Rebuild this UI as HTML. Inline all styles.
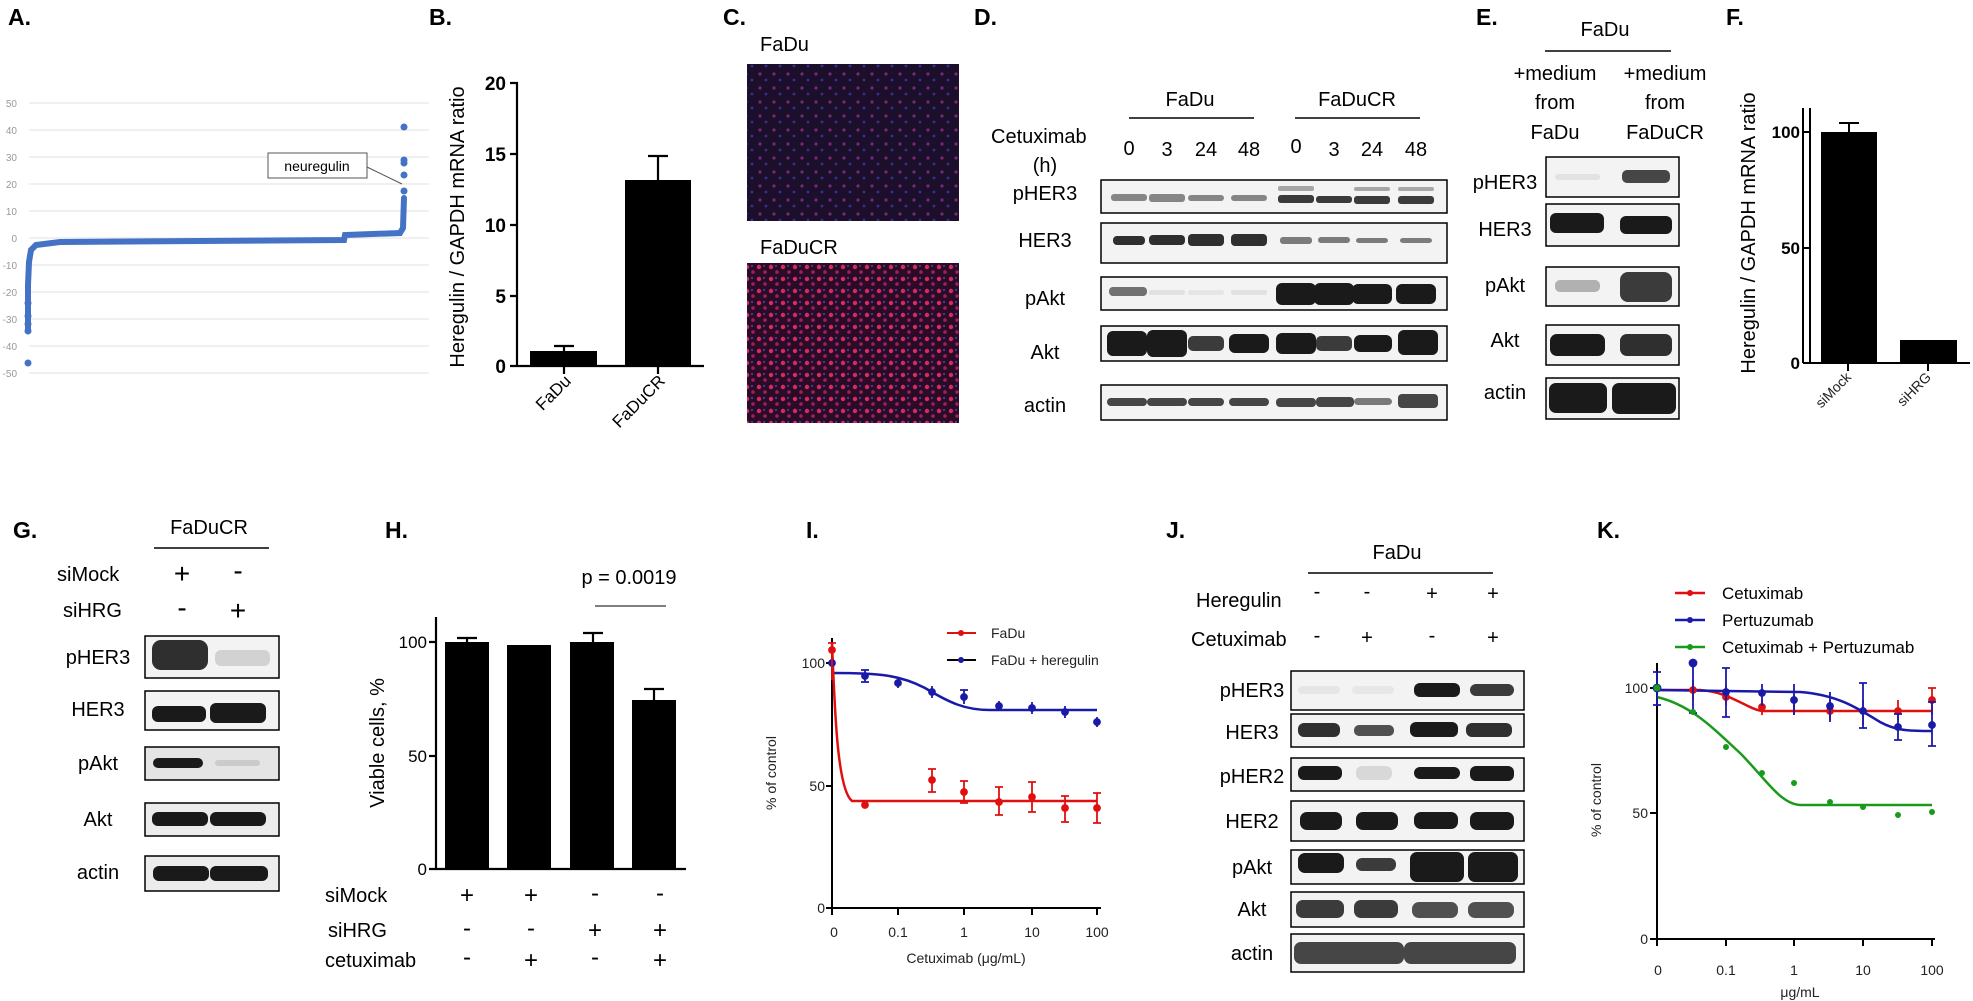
<!DOCTYPE html>
<html><head><meta charset="utf-8"><style>
html,body{margin:0;padding:0;background:#fff}
svg{display:block;font-family:"Liberation Sans",Arial,sans-serif}
.L{font-size:23px;font-weight:bold}
.t{font-size:20px}
.m{font-size:17px}
.s{font-size:14px;fill:#222}
.g{font-size:10px;fill:#999}
.b{stroke:#000;stroke-width:1.5;fill:#f3f3f3}
.bd{fill:#1a1a1a}
</style></head><body>
<svg width="1973" height="1001" viewBox="0 0 1973 1001" xmlns="http://www.w3.org/2000/svg">
<rect width="1973" height="1001" fill="#fff"/>
<!-- A -->
<text class="L" x="8" y="25">A.</text>
<g stroke="#e8e8e8" stroke-width="1.2">
<line x1="29" y1="103" x2="429" y2="103"/><line x1="29" y1="130" x2="429" y2="130"/><line x1="29" y1="157" x2="429" y2="157"/><line x1="29" y1="184" x2="429" y2="184"/><line x1="29" y1="211" x2="429" y2="211"/><line x1="29" y1="238" x2="429" y2="238"/><line x1="29" y1="265" x2="429" y2="265"/><line x1="29" y1="292" x2="429" y2="292"/><line x1="29" y1="319" x2="429" y2="319"/><line x1="29" y1="346" x2="429" y2="346"/><line x1="29" y1="373" x2="429" y2="373"/>
</g>
<g class="g" text-anchor="end">
<text x="17" y="107">50</text><text x="17" y="134">40</text><text x="17" y="161">30</text><text x="17" y="188">20</text><text x="17" y="215">10</text><text x="17" y="242">0</text><text x="17" y="269">-10</text><text x="17" y="296">-20</text><text x="17" y="323">-30</text><text x="17" y="350">-40</text><text x="17" y="377">-50</text>
</g>
<path d="M28 330 L28 285 L29 262 L31 250 L36 245 L60 242 L200 241 L344 240 L345 235 L400 233 L403 228 L404 198" stroke="#4472c4" stroke-width="6" fill="none" stroke-linecap="round"/>
<g fill="#4472c4"><circle cx="28" cy="363" r="3.5"/><circle cx="28" cy="331" r="3.5"/><circle cx="28" cy="324" r="3.5"/><circle cx="28" cy="316" r="3.5"/><circle cx="28" cy="303" r="3.5"/><circle cx="404" cy="191" r="3.5"/><circle cx="404" cy="175" r="3.5"/><circle cx="404" cy="163" r="3.5"/><circle cx="404" cy="160" r="3.5"/><circle cx="404" cy="127" r="3.5"/></g>
<rect x="268" y="153" width="99" height="25" fill="#fff" stroke="#555"/>
<text x="317" y="171" text-anchor="middle" style="font-size:14px">neuregulin</text>
<line x1="367" y1="167" x2="402" y2="184" stroke="#555"/>
<!-- B -->
<text class="L" x="429" y="25">B.</text>
<g stroke="#000" stroke-width="2.2" fill="none">
<path d="M510 83H517V366H510M510 154H517M510 225H517M510 296H517M517 366H704M564 366V374M658 366V374"/>
<path d="M564 351V346M554 346H574M658 180V156M648 156H668"/>
</g>
<rect x="530" y="351" width="67" height="15"/><rect x="625" y="180" width="66" height="186"/>
<g style="font-size:19px;font-weight:bold" text-anchor="end"><text x="506" y="90">20</text><text x="506" y="161">15</text><text x="506" y="232">10</text><text x="506" y="303">5</text><text x="506" y="373">0</text></g>
<text class="t" transform="translate(464,227) rotate(-90)" text-anchor="middle">Heregulin / GAPDH mRNA ratio</text>
<text class="m" transform="translate(572,382) rotate(-45)" text-anchor="end">FaDu</text>
<text class="m" transform="translate(666,382) rotate(-45)" text-anchor="end">FaDuCR</text>
<!-- C -->
<text class="L" x="723" y="25">C.</text>
<defs>
<pattern id="p1" width="14" height="14" patternUnits="userSpaceOnUse"><rect width="14" height="14" fill="#1c0f2c"/><circle cx="4" cy="4" r="1.6" fill="#7a2870"/><circle cx="10" cy="10" r="1.4" fill="#3a2e90"/></pattern>
<pattern id="p2" width="12" height="12" patternUnits="userSpaceOnUse"><rect width="12" height="12" fill="#2a0c28"/><circle cx="3" cy="3" r="2.2" fill="#d82a60"/><circle cx="9" cy="8" r="1.8" fill="#a0205a"/><circle cx="8" cy="2" r="1.1" fill="#4a38a0"/></pattern>
</defs>
<text class="t" x="760" y="51">FaDu</text>
<rect x="747" y="64" width="212" height="157" fill="url(#p1)"/>
<text class="t" x="760" y="254">FaDuCR</text>
<rect x="747" y="263" width="212" height="160" fill="url(#p2)"/>
<!-- D -->
<text class="L" x="974" y="25">D.</text>
<g class="t" text-anchor="middle"><text x="1190" y="106">FaDu</text><text x="1357" y="106">FaDuCR</text></g>
<g stroke="#000" stroke-width="1.5"><line x1="1129" y1="118" x2="1254" y2="118"/><line x1="1295" y1="118" x2="1420" y2="118"/></g>
<text class="t" x="991" y="143">Cetuximab</text><text class="t" x="1045" y="172" text-anchor="middle">(h)</text>
<g class="t" text-anchor="middle"><text x="1129" y="155">0</text><text x="1167" y="156">3</text><text x="1206" y="156">24</text><text x="1249" y="156">48</text><text x="1296" y="153">0</text><text x="1334" y="156">3</text><text x="1372" y="156">24</text><text x="1416" y="156">48</text></g>
<g class="t" text-anchor="middle"><text x="1045" y="200">pHER3</text><text x="1045" y="247">HER3</text><text x="1045" y="305">pAkt</text><text x="1045" y="359">Akt</text><text x="1045" y="412">actin</text></g>
<rect class="b" x="1101" y="180" width="346" height="33"/><rect class="b" x="1101" y="223" width="346" height="40"/><rect class="b" x="1101" y="277" width="346" height="33"/><rect class="b" x="1101" y="326" width="346" height="35"/><rect class="b" x="1101" y="385" width="346" height="35"/>
<g class="bd">
<g opacity="0.5"><rect x="1111" y="194" width="36" height="7" rx="3"/><rect x="1149" y="194" width="36" height="8" rx="3"/><rect x="1188" y="195" width="36" height="6" rx="3"/><rect x="1231" y="195" width="36" height="6" rx="3"/></g>
<g opacity="0.85"><rect x="1278" y="195" width="36" height="8" rx="3"/><rect x="1316" y="196" width="36" height="7" rx="3"/><rect x="1354" y="196" width="36" height="8" rx="3"/><rect x="1398" y="196" width="36" height="8" rx="3"/></g>
<g opacity="0.35"><rect x="1278" y="186" width="36" height="5" rx="2"/><rect x="1354" y="187" width="36" height="4" rx="2"/><rect x="1398" y="187" width="36" height="4" rx="2"/></g>
<g opacity="0.9"><rect x="1113" y="236" width="32" height="9" rx="4"/><rect x="1149" y="235" width="36" height="10" rx="4"/><rect x="1188" y="234" width="36" height="12" rx="4"/><rect x="1231" y="234" width="36" height="12" rx="4"/></g>
<g opacity="0.55"><rect x="1280" y="237" width="32" height="7" rx="3"/><rect x="1318" y="237" width="32" height="6" rx="3"/><rect x="1356" y="238" width="32" height="5" rx="3"/><rect x="1400" y="238" width="32" height="5" rx="3"/></g>
<rect x="1109" y="287" width="38" height="9" rx="4" opacity="0.6"/><rect x="1149" y="290" width="36" height="5" rx="2" opacity="0.08"/><rect x="1188" y="290" width="36" height="5" rx="2" opacity="0.06"/><rect x="1231" y="290" width="36" height="5" rx="2" opacity="0.08"/>
<rect x="1276" y="283" width="40" height="22" rx="6"/><rect x="1314" y="283" width="40" height="22" rx="6"/><rect x="1352" y="284" width="40" height="20" rx="6"/><rect x="1396" y="284" width="40" height="20" rx="6"/>
<rect x="1107" y="331" width="40" height="25" rx="6"/><rect x="1147" y="330" width="40" height="27" rx="6"/><rect x="1188" y="336" width="36" height="15" rx="5" opacity="0.85"/><rect x="1229" y="334" width="40" height="19" rx="6"/><rect x="1276" y="333" width="40" height="21" rx="6"/><rect x="1316" y="336" width="36" height="15" rx="5" opacity="0.85"/><rect x="1354" y="335" width="38" height="17" rx="6"/><rect x="1398" y="330" width="40" height="25" rx="6"/>
<g opacity="0.8"><rect x="1107" y="398" width="40" height="8" rx="4"/><rect x="1147" y="398" width="40" height="8" rx="4"/><rect x="1188" y="398" width="36" height="8" rx="4"/><rect x="1229" y="398" width="40" height="8" rx="4"/><rect x="1276" y="398" width="40" height="9" rx="4"/><rect x="1316" y="397" width="38" height="10" rx="4"/><rect x="1354" y="398" width="38" height="7" rx="4" opacity="0.7"/><rect x="1398" y="394" width="40" height="14" rx="4"/></g>
</g>
<!-- E -->
<text class="L" x="1476" y="25">E.</text>
<text class="t" x="1605" y="36" text-anchor="middle">FaDu</text>
<line x1="1545" y1="51" x2="1671" y2="51" stroke="#000" stroke-width="1.5"/>
<g class="t" text-anchor="middle"><text x="1555" y="80">+medium</text><text x="1555" y="109">from</text><text x="1555" y="139">FaDu</text><text x="1665" y="80">+medium</text><text x="1665" y="109">from</text><text x="1665" y="139">FaDuCR</text></g>
<g class="t" text-anchor="middle"><text x="1505" y="189">pHER3</text><text x="1505" y="236">HER3</text><text x="1505" y="292">pAkt</text><text x="1505" y="347">Akt</text><text x="1505" y="399">actin</text></g>
<rect class="b" x="1546" y="157" width="133" height="40"/><rect class="b" x="1546" y="204" width="133" height="42"/><rect class="b" x="1546" y="267" width="133" height="39"/><rect class="b" x="1546" y="325" width="133" height="40"/><rect class="b" x="1546" y="378" width="133" height="41"/>
<g class="bd">
<rect x="1555" y="174" width="45" height="6" rx="3" opacity="0.08"/><rect x="1622" y="170" width="48" height="13" rx="5" opacity="0.8"/>
<rect x="1550" y="213" width="54" height="20" rx="6"/><rect x="1620" y="216" width="52" height="18" rx="6"/>
<rect x="1555" y="280" width="45" height="12" rx="5" opacity="0.3"/><rect x="1620" y="272" width="52" height="30" rx="8" opacity="0.85"/>
<rect x="1550" y="334" width="55" height="22" rx="7"/><rect x="1620" y="334" width="52" height="22" rx="7" opacity="0.9"/>
<rect x="1549" y="383" width="58" height="30" rx="7"/><rect x="1612" y="383" width="64" height="31" rx="7"/>
</g>
<!-- F -->
<text class="L" x="1726" y="25">F.</text>
<g stroke="#000" stroke-width="2" fill="none"><path d="M1803 108V363M1803 132H1810M1803 248H1810M1803 363H1970M1848 363V371M1928 363V371M1810 108V363"/><path d="M1849 132V123M1839 123H1859"/></g>
<rect x="1821" y="132" width="56" height="231"/><rect x="1900" y="340" width="57" height="23"/>
<g class="m" text-anchor="end" style="font-weight:bold"><text x="1800" y="138">100</text><text x="1800" y="254">50</text><text x="1800" y="369">0</text></g>
<text class="t" transform="translate(1755,233) rotate(-90)" text-anchor="middle">Heregulin / GAPDH mRNA ratio</text>
<text class="s" transform="translate(1852,378) rotate(-45)" text-anchor="end">siMock</text>
<text class="s" transform="translate(1932,378) rotate(-45)" text-anchor="end">siHRG</text>
<!-- G -->
<text class="L" x="13" y="538">G.</text>
<text class="t" x="209" y="534" text-anchor="middle">FaDuCR</text>
<line x1="154" y1="548" x2="269" y2="548" stroke="#000" stroke-width="1.5"/>
<g class="t"><text x="57" y="581">siMock</text><text x="63" y="617">siHRG</text></g>
<g text-anchor="middle" style="font-size:28px"><text x="182" y="583">+</text><text x="238" y="580">-</text><text x="182" y="617">-</text><text x="238" y="620">+</text></g>
<g class="t" text-anchor="middle"><text x="98" y="664">pHER3</text><text x="98" y="716">HER3</text><text x="98" y="770">pAkt</text><text x="98" y="826">Akt</text><text x="98" y="879">actin</text></g>
<rect class="b" x="145" y="636" width="134" height="42"/><rect class="b" x="145" y="691" width="134" height="39"/><rect class="b" x="145" y="747" width="134" height="33" style="fill:#e4e4e4"/><rect class="b" x="145" y="803" width="134" height="33" style="fill:#ececec"/><rect class="b" x="145" y="856" width="134" height="35" style="fill:#ececec"/>
<g class="bd">
<rect x="152" y="640" width="56" height="30" rx="9" opacity="0.9"/><rect x="215" y="650" width="55" height="16" rx="6" opacity="0.15"/>
<rect x="152" y="706" width="54" height="16" rx="6"/><rect x="210" y="703" width="56" height="20" rx="6"/>
<rect x="153" y="758" width="50" height="10" rx="5"/><rect x="215" y="760" width="45" height="6" rx="3" opacity="0.12"/>
<rect x="152" y="812" width="56" height="14" rx="6"/><rect x="210" y="812" width="56" height="14" rx="6"/>
<rect x="153" y="866" width="56" height="15" rx="6"/><rect x="210" y="866" width="58" height="15" rx="6"/>
</g>
<!-- H -->
<text class="L" x="385" y="538">H.</text>
<g stroke="#000" stroke-width="2.2" fill="none">
<path d="M436 617V869H686M429 642H436M429 756H436M429 869H436"/>
<path d="M467 642V638M457 638H477M593 642V633M583 633H603M654 700V689M644 689H664"/>
</g>
<rect x="445" y="642" width="44" height="227"/><rect x="507" y="645" width="44" height="224"/><rect x="570" y="642" width="44" height="227"/><rect x="632" y="700" width="44" height="169"/>
<g class="m" text-anchor="end"><text x="427" y="648">100</text><text x="427" y="762">50</text><text x="427" y="875">0</text></g>
<text class="t" transform="translate(384,743) rotate(-90)" text-anchor="middle">Viable cells, %</text>
<text class="t" x="629" y="584" text-anchor="middle">p = 0.0019</text>
<line x1="595" y1="606" x2="666" y2="606" stroke="#555" stroke-width="1.5"/>
<g class="t"><text x="325" y="902">siMock</text><text x="328" y="937">siHRG</text><text x="325" y="967">cetuximab</text></g>
<g text-anchor="middle" style="font-size:24px"><text x="467" y="903">+</text><text x="531" y="903">+</text><text x="595" y="901">-</text><text x="660" y="901">-</text><text x="467" y="936">-</text><text x="531" y="936">-</text><text x="595" y="938">+</text><text x="660" y="938">+</text><text x="467" y="965">-</text><text x="531" y="968">+</text><text x="595" y="965">-</text><text x="660" y="968">+</text></g>
<!-- I -->
<text class="L" x="806" y="538">I.</text>
<g stroke="#000" stroke-width="2" fill="none"><path d="M832 638V908H1101M826 663H832M826 786H832M826 908H832M832 908V915M898 908V915M964 908V915M1032 908V915M1097 908V915"/></g>
<g class="s" text-anchor="end"><text x="825" y="668">100</text><text x="825" y="791">50</text><text x="825" y="913">0</text></g>
<g class="s" text-anchor="middle"><text x="834" y="937">0</text><text x="898" y="937">0.1</text><text x="964" y="937">1</text><text x="1032" y="937">10</text><text x="1097" y="937">100</text></g>
<text class="s" x="966" y="963" text-anchor="middle">Cetuximab  (μg/mL)</text>
<text class="s" transform="translate(776,773) rotate(-90)" text-anchor="middle">% of control</text>
<path d="M832 673C880 673 900 675 925 688C950 703 965 710 990 710L1097 710" stroke="#1a1aa8" stroke-width="2.5" fill="none"/>
<path d="M832 643C835 720 838 790 852 801L1097 801" stroke="#e01010" stroke-width="2.5" fill="none"/>
<g stroke="#1a1aa8" stroke-width="1.8" fill="#1a1aa8"><path d="M865 670V682M861 670H869M861 682H869M898 678V688M932 686V698M964 690V704M960 690H968M999 701V711M1032 702V714M1065 706V718M1097 717V727M832 657V669"/><circle cx="832" cy="663" r="3"/><circle cx="865" cy="676" r="3"/><circle cx="898" cy="683" r="3"/><circle cx="932" cy="692" r="3"/><circle cx="964" cy="697" r="3"/><circle cx="999" cy="706" r="3"/><circle cx="1032" cy="708" r="3"/><circle cx="1065" cy="712" r="3"/><circle cx="1097" cy="722" r="3"/></g>
<g stroke="#e01010" stroke-width="1.8" fill="#e01010"><path d="M832 643V680M828 643H836M932 769V792M928 769H936M928 792H936M964 781V803M960 781H968M960 803H968M999 787V815M995 787H1003M995 815H1003M1032 782V812M1028 782H1036M1028 812H1036M1065 796V822M1061 796H1069M1061 822H1069M1097 793V823M1093 793H1101M1093 823H1101"/><circle cx="832" cy="650" r="3"/><circle cx="865" cy="805" r="3"/><circle cx="932" cy="780" r="3"/><circle cx="964" cy="792" r="3"/><circle cx="999" cy="802" r="3"/><circle cx="1032" cy="797" r="3"/><circle cx="1065" cy="808" r="3"/><circle cx="1097" cy="808" r="3"/></g>
<line x1="947" y1="633" x2="976" y2="633" stroke="#e01010" stroke-width="2"/><circle cx="961" cy="633" r="3" fill="#e01010"/><text class="s" x="991" y="638">FaDu</text>
<line x1="947" y1="660" x2="976" y2="660" stroke="#000" stroke-width="2"/><circle cx="961" cy="660" r="3" fill="#1a1aa8"/><text class="s" x="991" y="665">FaDu + heregulin</text>
<!-- J -->
<text class="L" x="1166" y="538">J.</text>
<text class="t" x="1397" y="559" text-anchor="middle">FaDu</text>
<line x1="1308" y1="573" x2="1493" y2="573" stroke="#000" stroke-width="1.5"/>
<g class="t"><text x="1196" y="607">Heregulin</text><text x="1191" y="646">Cetuximab</text></g>
<g text-anchor="middle" style="font-size:20px"><text x="1317" y="598">-</text><text x="1367" y="598">-</text><text x="1432" y="600">+</text><text x="1493" y="600">+</text><text x="1317" y="642">-</text><text x="1367" y="644">+</text><text x="1432" y="642">-</text><text x="1493" y="644">+</text></g>
<g class="t" text-anchor="middle"><text x="1252" y="697">pHER3</text><text x="1252" y="739">HER3</text><text x="1252" y="783">pHER2</text><text x="1252" y="828">HER2</text><text x="1252" y="874">pAkt</text><text x="1252" y="916">Akt</text><text x="1252" y="960">actin</text></g>
<rect class="b" x="1291" y="671" width="233" height="39"/><rect class="b" x="1291" y="714" width="233" height="33"/><rect class="b" x="1291" y="758" width="233" height="33"/><rect class="b" x="1291" y="801" width="233" height="40"/><rect class="b" x="1291" y="850" width="233" height="34"/><rect class="b" x="1291" y="892" width="233" height="35"/><rect class="b" x="1291" y="934" width="233" height="38"/>
<g class="bd">
<rect x="1298" y="686" width="42" height="8" rx="4" opacity="0.06"/><rect x="1352" y="686" width="42" height="8" rx="4" opacity="0.05"/><rect x="1414" y="683" width="46" height="14" rx="6"/><rect x="1470" y="684" width="44" height="12" rx="6" opacity="0.85"/>
<rect x="1298" y="723" width="42" height="14" rx="6" opacity="0.9"/><rect x="1354" y="725" width="40" height="11" rx="5" opacity="0.75"/><rect x="1410" y="722" width="48" height="15" rx="6"/><rect x="1466" y="723" width="46" height="14" rx="6" opacity="0.9"/>
<rect x="1298" y="766" width="44" height="14" rx="6"/><rect x="1356" y="766" width="36" height="14" rx="6" opacity="0.12"/><rect x="1414" y="767" width="46" height="12" rx="6"/><rect x="1470" y="766" width="44" height="15" rx="6"/>
<rect x="1300" y="812" width="42" height="18" rx="7"/><rect x="1356" y="812" width="42" height="18" rx="7"/><rect x="1414" y="812" width="44" height="17" rx="7"/><rect x="1470" y="812" width="44" height="18" rx="7"/>
<rect x="1298" y="853" width="46" height="20" rx="7"/><rect x="1356" y="858" width="40" height="13" rx="6" opacity="0.85"/><rect x="1410" y="852" width="54" height="30" rx="7"/><rect x="1468" y="852" width="50" height="30" rx="7"/>
<rect x="1296" y="900" width="48" height="18" rx="7" opacity="0.85"/><rect x="1354" y="900" width="44" height="18" rx="7" opacity="0.85"/><rect x="1412" y="902" width="46" height="16" rx="7" opacity="0.75"/><rect x="1468" y="902" width="46" height="16" rx="7" opacity="0.75"/>
<rect x="1294" y="942" width="110" height="22" rx="7" opacity="0.8"/><rect x="1404" y="942" width="112" height="22" rx="7" opacity="0.8"/>
</g>
<!-- K -->
<text class="L" x="1597" y="538">K.</text>
<g stroke="#000" stroke-width="2" fill="none"><path d="M1657 663V939H1935M1650 688H1657M1650 813H1657M1650 939H1657M1657 939V946M1726 939V946M1794 939V946M1863 939V946M1932 939V946"/></g>
<g class="s" text-anchor="end"><text x="1648" y="693">100</text><text x="1648" y="818">50</text><text x="1648" y="944">0</text></g>
<g class="s" text-anchor="middle"><text x="1658" y="975">0</text><text x="1726" y="975">0.1</text><text x="1794" y="975">1</text><text x="1863" y="975">10</text><text x="1932" y="975">100</text></g>
<text class="s" x="1800" y="997" text-anchor="middle">μg/mL</text>
<text class="s" transform="translate(1601,800) rotate(-90)" text-anchor="middle">% of control</text>
<path d="M1657 697C1690 705 1710 725 1740 753C1765 778 1780 804 1800 805L1932 805" stroke="#1a9a1a" stroke-width="2.5" fill="none"/>
<path d="M1657 690L1700 690C1730 692 1745 708 1762 711L1932 711" stroke="#e01010" stroke-width="2.5" fill="none"/>
<path d="M1657 690L1800 692C1840 695 1860 710 1880 722C1895 730 1905 731 1932 731" stroke="#1a1aa8" stroke-width="2.5" fill="none"/>
<g stroke="#e01010" stroke-width="1.8" fill="#e01010"><path d="M1693 680V700M1726 685V705M1762 700V715M1794 695V715M1830 700V720M1863 700V725M1898 700V720M1932 688V715M1928 688H1936"/><circle cx="1693" cy="690" r="3"/><circle cx="1726" cy="697" r="3"/><circle cx="1762" cy="707" r="3"/><circle cx="1830" cy="711" r="3"/><circle cx="1898" cy="711" r="3"/><circle cx="1932" cy="700" r="3"/></g>
<g stroke="#1a1aa8" stroke-width="1.8" fill="#1a1aa8"><path d="M1657 672V705M1653 672H1661M1653 705H1661M1693 662V713M1689 662H1697M1689 713H1697M1726 668V717M1722 668H1730M1722 717H1730M1762 684V706M1794 684V715M1830 692V722M1863 683V728M1859 683H1867M1859 728H1867M1898 714V740M1894 714H1902M1894 740H1902M1932 702V746M1928 702H1936M1928 746H1936"/><circle cx="1657" cy="688" r="3.5"/><circle cx="1693" cy="663" r="3.5"/><circle cx="1726" cy="692" r="3"/><circle cx="1762" cy="693" r="3"/><circle cx="1794" cy="700" r="3"/><circle cx="1830" cy="706" r="3"/><circle cx="1863" cy="711" r="3"/><circle cx="1898" cy="727" r="3"/><circle cx="1932" cy="725" r="3"/></g>
<g fill="#1a9a1a"><circle cx="1657" cy="688" r="3.5"/><circle cx="1693" cy="712" r="3"/><circle cx="1726" cy="747" r="3"/><circle cx="1762" cy="773" r="3"/><circle cx="1794" cy="783" r="3"/><circle cx="1830" cy="802" r="3"/><circle cx="1863" cy="807" r="3"/><circle cx="1898" cy="815" r="3"/><circle cx="1932" cy="812" r="3"/></g>
<line x1="1675" y1="593" x2="1705" y2="593" stroke="#e01010" stroke-width="2.5"/><circle cx="1690" cy="593" r="3" fill="#e01010"/><text class="m" x="1722" y="599">Cetuximab</text>
<line x1="1675" y1="620" x2="1705" y2="620" stroke="#1a1aa8" stroke-width="2.5"/><circle cx="1690" cy="620" r="3" fill="#1a1aa8"/><text class="m" x="1722" y="626">Pertuzumab</text>
<line x1="1675" y1="647" x2="1705" y2="647" stroke="#1a9a1a" stroke-width="2.5"/><circle cx="1690" cy="647" r="3" fill="#1a9a1a"/><text class="m" x="1722" y="653">Cetuximab + Pertuzumab</text>
</svg>
</body></html>
